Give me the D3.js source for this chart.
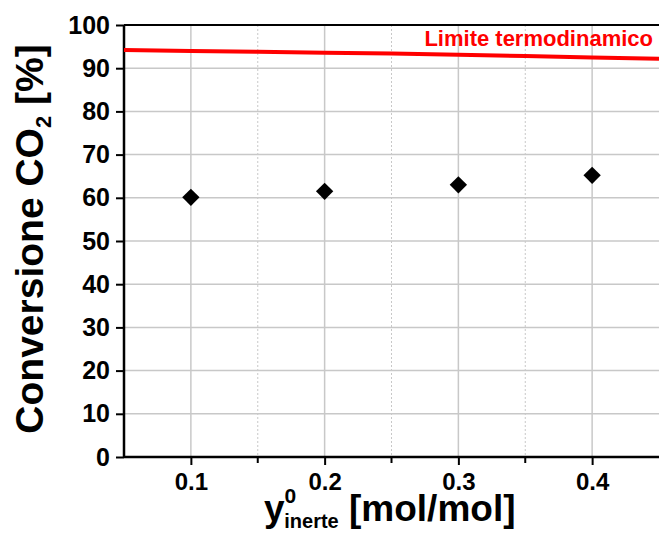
<!DOCTYPE html>
<html><head><meta charset="utf-8">
<script src="https://cdn.jsdelivr.net/npm/d3@7"></script>
<style>body{margin:0;background:#fff}svg{display:block}text{font-family:Arial,"Liberation Sans",sans-serif;font-weight:bold}</style>
</head><body><svg id="c" width="659" height="533"></svg>
<script>
const xValues = [0.1, 0.2, 0.3, 0.4];
const conversion = [60.1, 61.5, 63.0, 65.2];
const limitX = [0.05, 0.10, 0.15, 0.20, 0.25, 0.30, 0.35, 0.40, 0.45];
const limitY = [94.2, 94.0, 93.8, 93.6, 93.4, 93.1, 92.8, 92.5, 92.2];
const xTicks = [0.1, 0.2, 0.3, 0.4];
const xMinor = [0.15, 0.25, 0.35];
const yTicks = [0, 10, 20, 30, 40, 50, 60, 70, 80, 90, 100];
const limitLabel = "Limite termodinamico";

const svg = d3.select("#c");
const L = 124, R = 659, T = 25, B = 457;
const x = d3.scaleLinear().domain([0.05, 0.45]).range([L, R]);
const y = d3.scaleLinear().domain([0, 100]).range([B, T]);

// grid
const g = svg.append("g");
g.selectAll(".hg").data(yTicks.filter(d => d > 0 && d < 100)).enter().append("line")
  .attr("x1", L).attr("x2", R).attr("y1", d => y(d)).attr("y2", d => y(d))
  .attr("stroke", "#c8c8c8").attr("stroke-width", 1.5);
g.selectAll(".vg").data(xTicks).enter().append("line")
  .attr("x1", d => x(d)).attr("x2", d => x(d)).attr("y1", T).attr("y2", B)
  .attr("stroke", "#c8c8c8").attr("stroke-width", 1.5);
g.selectAll(".vm").data(xMinor).enter().append("line")
  .attr("x1", d => x(d)).attr("x2", d => x(d)).attr("y1", T).attr("y2", B)
  .attr("stroke", "#c8c8c8").attr("stroke-width", 1).attr("stroke-dasharray", "2,2");

// top border
svg.append("line").attr("x1", L).attr("x2", R).attr("y1", T).attr("y2", T)
  .attr("stroke", "#000").attr("stroke-width", 2);

// axes
const xAxis = d3.axisBottom(x).tickValues(xTicks).tickSize(8).tickPadding(8).tickFormat(d3.format(".1f"));
const xa = svg.append("g").attr("transform", `translate(0,${B})`).call(xAxis);
xa.selectAll(".tick line").attr("stroke", "#000").attr("stroke-width", 2);
xa.select(".domain").attr("stroke", "#000").attr("stroke-width", 2.5).attr("d", `M${L},0H${R}`);
xa.selectAll("text").attr("font-size", 24).attr("fill", "#000").attr("font-family", "Arial, 'Liberation Sans', sans-serif").attr("font-weight", "bold");
svg.append("g").attr("transform", `translate(0,${B})`).selectAll("line").data(xMinor).enter().append("line")
  .attr("x1", d => x(d)).attr("x2", d => x(d)).attr("y1", 0).attr("y2", 6).attr("stroke", "#000").attr("stroke-width", 2);

const yAxis = d3.axisLeft(y).tickValues(yTicks).tickSize(8).tickPadding(6);
const ya = svg.append("g").attr("transform", `translate(${L},0)`).call(yAxis);
ya.selectAll(".tick line").attr("stroke", "#000").attr("stroke-width", 2);
ya.select(".domain").attr("stroke", "#000").attr("stroke-width", 2.5).attr("d", `M0,${T}V${B}`);
ya.selectAll("text").attr("font-size", 25).attr("fill", "#000").attr("font-family", "Arial, 'Liberation Sans', sans-serif").attr("font-weight", "bold");

// limit line
const line = d3.line().x((d, i) => x(limitX[i])).y(d => y(d));
svg.append("path").datum(limitY).attr("d", line).attr("fill", "none")
  .attr("stroke", "#ff0000").attr("stroke-width", 4);
svg.append("text").attr("x", 653).attr("y", 46).attr("text-anchor", "end")
  .attr("font-size", 22).attr("fill", "#ff0000").text(limitLabel);

// points
const sym = d3.symbol().type(d3.symbolSquare).size(150);
svg.selectAll(".pt").data(conversion).enter().append("path")
  .attr("d", sym).attr("fill", "#000")
  .attr("transform", (d, i) => `translate(${x(xValues[i])},${y(d)}) rotate(45)`);

// x title
const xt = svg.append("text").attr("x", 264).attr("y", 521).attr("font-size", 37).attr("fill", "#000");
xt.append("tspan").text("y");
xt.append("tspan").attr("font-size", 21).attr("dy", -18).text("0");
xt.append("tspan").attr("font-size", 20).attr("dx", -12).attr("dy", 25).text("inerte");
xt.append("tspan").attr("dy", -7).text(" [mol/mol]");

// y title
const yt = svg.append("text").attr("transform", "translate(43,239) rotate(-90)")
  .attr("text-anchor", "middle").attr("font-size", 39).attr("fill", "#000");
yt.append("tspan").text("Conversione CO");
yt.append("tspan").attr("font-size", 22).attr("dy", 8).text("2");
yt.append("tspan").attr("dy", -8).text(" [%]");
</script></body></html>
